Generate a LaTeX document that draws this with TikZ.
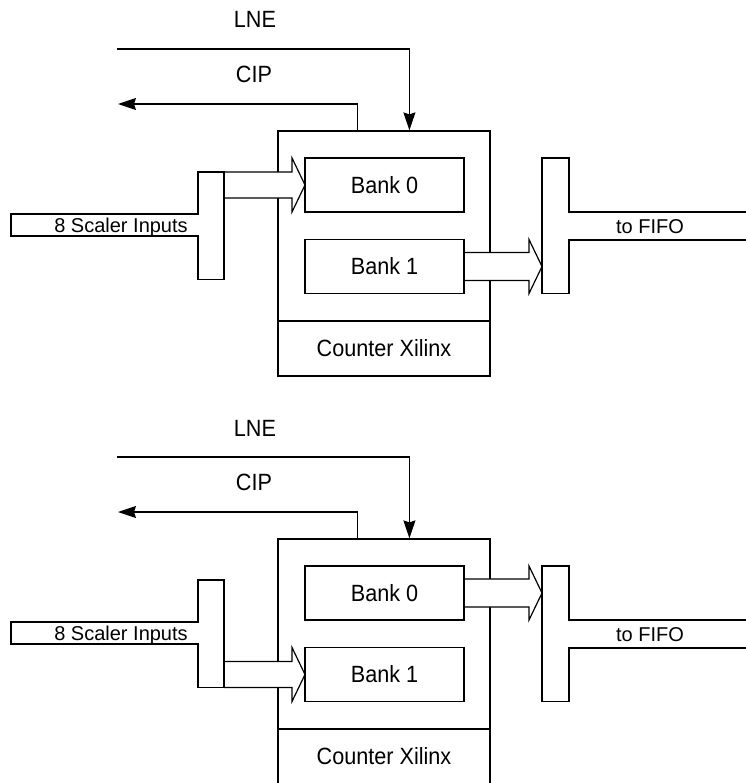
\documentclass[tikz,border=0pt]{standalone}
\usepackage{fontspec}
\setmainfont{Liberation Sans}
\newfontfamily\narrowsans[FakeStretch=0.92]{Liberation Sans}
\usetikzlibrary{arrows.meta,calc}
\tikzset{
  ln/.style={line width=1.2bp},
  box/.style={ln, draw, rectangle, inner sep=0pt, fill=white},
  big/.style={font=\narrowsans\fontsize{23.5bp}{26bp}\selectfont, text height=16.8bp, text depth=0pt, inner sep=0pt},
  small/.style={font=\fontsize{20bp}{22bp}\selectfont, text height=14.3bp, text depth=0pt, inner sep=0pt},
  fat/.style={ln, draw, fill=white, line join=miter},
  sig/.style={ln, -{Stealth[length=18bp,width=12bp,inset=2bp]}},
  bus/.style={inner sep=0pt, outer sep=0pt},
}
% #1 suffix, #2 vertical offset, #3 input bank, #4 output bank
\newcommand\counterunit[4]{%
\begin{scope}[shift={(0,#2)}]
  \node[box, minimum width=212bp, minimum height=245bp] (ctr#1) at (384,253.5) {};
  \node[box, big, minimum width=212bp, minimum height=55bp] (xil#1) at (384,348.5) {Counter Xilinx};
  % bus placeholders
  \node[bus, minimum width=26bp, minimum height=107.5bp] (inbus#1) at (211,225.75) {};
  \node[bus, minimum width=27bp, minimum height=135.5bp] (outbus#1) at (555.5,225.75) {};
  \node[bus, minimum width=159bp, minimum height=54bp] (pos0#1) at (384.5,185) {};
  \node[bus, minimum width=159bp, minimum height=54bp] (pos1#1) at (384.5,266.5) {};
  % wide arrows
  \draw[fat] ($(inbus#1.east |- pos#3#1.west)+(0,-13)$) -- ($(pos#3#1.west)+(-13,-13)$)
     -- ($(pos#3#1.north west)+(-13,0)$) -- (pos#3#1.west) -- ($(pos#3#1.south west)+(-13,0)$)
     -- ($(pos#3#1.west)+(-13,13)$) -- ($(inbus#1.east |- pos#3#1.west)+(0,13)$);
  \draw[fat] ($(pos#4#1.east)+(0,-14)$) -- ($(pos#4#1.east -| outbus#1.west)+(-13,-14)$)
     -- ($(pos#4#1.north east -| outbus#1.west)+(-13,0)$) -- (pos#4#1.east -| outbus#1.west)
     -- ($(pos#4#1.south east -| outbus#1.west)+(-13,0)$) -- ($(pos#4#1.east -| outbus#1.west)+(-13,14)$)
     -- ($(pos#4#1.east)+(0,14)$);
  % banks
  \node[box, big, minimum width=159bp, minimum height=54bp] (bank0#1) at (pos0#1) {Bank 0};
  \node[box, big, minimum width=159bp, minimum height=54bp] (bank1#1) at (pos1#1) {Bank 1};
  % input T
  \coordinate (sclA#1) at (11,214);
  \coordinate (sclB#1) at (11,236);
  \draw[ln, line join=miter] (inbus#1.west |- sclA#1) -- (inbus#1.north west) -- (inbus#1.north east)
     -- (inbus#1.south east) -- (inbus#1.south west) -- (inbus#1.west |- sclB#1) -- (sclB#1) -- (sclA#1) -- cycle;
  \node[small] (scltxt#1) at (121,225) {8 Scaler Inputs};
  % output T
  \coordinate (fifoA#1) at (752,212);
  \coordinate (fifoB#1) at (752,240);
  \draw[ln, line join=miter] (fifoA#1) -- (outbus#1.east |- fifoA#1) -- (outbus#1.north east) -- (outbus#1.north west)
     -- (outbus#1.south west) -- (outbus#1.south east) -- (outbus#1.east |- fifoB#1) -- (fifoB#1);
  \node[small] (fifotxt#1) at (650,226) {to FIFO};
  % control signals
  \coordinate (lneS#1) at (117,49);
  \coordinate (lneE#1) at ($(ctr#1.north west)+(132,0)$);
  \draw[sig] (lneS#1) -| (lneE#1);
  \coordinate (cipS#1) at ($(ctr#1.north west)+(80,0)$);
  \coordinate (cipE#1) at (118,104);
  \draw[sig] (cipS#1) |- (cipE#1);
  \node[big, anchor=base] (lne#1) at (255,28) {LNE};
  \node[big, anchor=base] (cip#1) at (254,82) {CIP};
\end{scope}}
\begin{document}
\begin{tikzpicture}[x=1bp, y=-1bp]
  \useasboundingbox (0,0) rectangle (746,783);
  \clip (0,0) rectangle (746,783);
  \fill[white] (0,0) rectangle (746,783);
  \counterunit{A}{0}{0}{1}
  \counterunit{B}{408}{1}{0}
\end{tikzpicture}
\end{document}
